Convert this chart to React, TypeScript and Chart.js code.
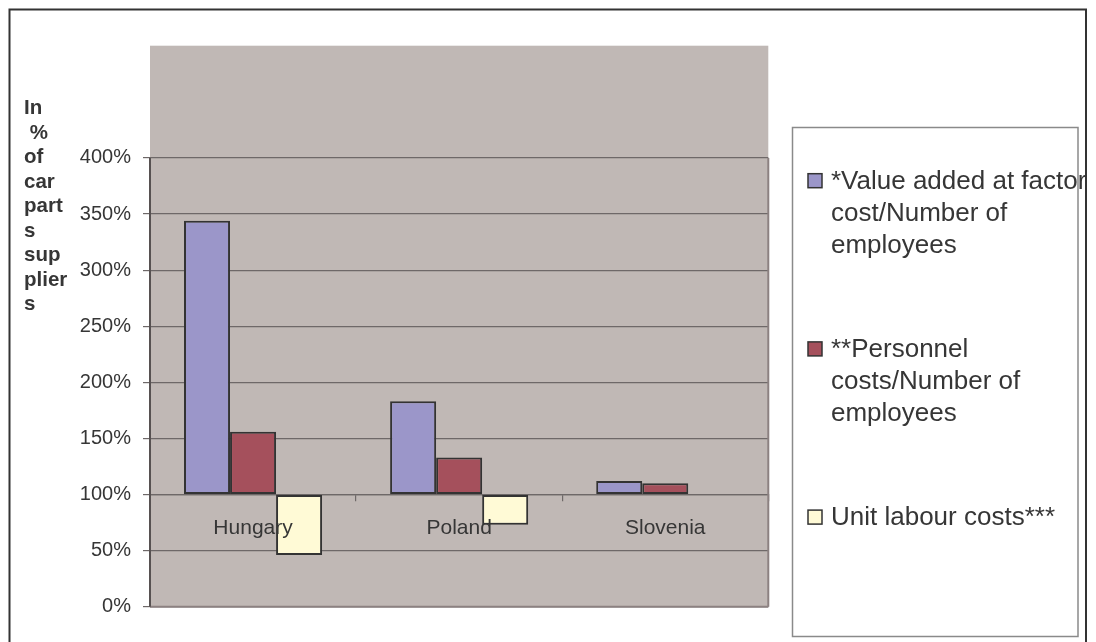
import React, { useEffect, useRef } from 'react';
import { Chart, registerables } from 'chart.js';

Chart.register(...registerables);

const CATEGORIES = ['Hungary', 'Poland', 'Slovenia'];
const SERIES_LABELS = [
  '*Value added at factor cost/Number of employees',
  '**Personnel costs/Number of employees',
  'Unit labour costs***',
];
const VALUE_ADDED = [344, 183, 112];
const PERSONNEL = [156, 133, 110];
const UNIT_LABOUR: (number | null)[] = [46, 73, null];
const SERIES_COLORS = ['#9b96c9', '#a5505c', '#fffad6'];
const BASELINE = 100;
const Y_MAX = 500;
const Y_TICK_MAX = 400;
const Y_STEP = 50;
const Y_TITLE_LINES = ['In', ' %', 'of', 'car', 'part', 's', 'sup', 'plier', 's'];

const FONT = '"Liberation Sans", Arial, Helvetica, sans-serif';
const TEXT = '#363636';
const GRID = '#6e6868';

function wrap(ctx: CanvasRenderingContext2D, text: string, maxW: number): string[] {
  const words = text.split(' ');
  const lines: string[] = [];
  let cur = '';
  for (const w of words) {
    const t = cur ? cur + ' ' + w : w;
    if (cur && ctx.measureText(t).width > maxW) {
      lines.push(cur);
      cur = w;
    } else cur = t;
  }
  if (cur) lines.push(cur);
  return lines;
}

const decor = {
  id: 'decor',
  beforeDraw(chart: any) {
    const { ctx, chartArea: a } = chart;
    ctx.save();
    ctx.fillStyle = '#ffffff';
    ctx.fillRect(0, 0, chart.width, chart.height);
    ctx.fillStyle = '#c0b8b5';
    ctx.fillRect(a.left, a.top, a.right - a.left, a.bottom - a.top);
    ctx.restore();
  },
  afterDraw(chart: any) {
    const { ctx, chartArea: a } = chart;
    const y = chart.scales.y;
    const yTop = y.getPixelForValue(Y_TICK_MAX);
    const yBot = y.getPixelForValue(0);
    ctx.save();
    // plot frame (0..400%)
    ctx.strokeStyle = '#8c8181';
    ctx.lineWidth = 2;
    ctx.beginPath();
    ctx.moveTo(a.left, yBot);
    ctx.lineTo(a.right, yBot);
    ctx.moveTo(a.right, yBot);
    ctx.lineTo(a.right, yTop);
    ctx.stroke();
    // value axis line
    ctx.strokeStyle = '#575151';
    ctx.lineWidth = 2;
    ctx.beginPath();
    ctx.moveTo(a.left, yTop);
    ctx.lineTo(a.left, yBot);
    ctx.stroke();

    // y title
    ctx.fillStyle = TEXT;
    ctx.font = 'bold 20.5px ' + FONT;
    ctx.textAlign = 'left';
    ctx.textBaseline = 'alphabetic';
    Y_TITLE_LINES.forEach((l, i) => {
      ctx.fillText(l, 24, 114 + i * 24.5);
    });

    // legend
    ctx.strokeStyle = '#8a8a8a';
    ctx.lineWidth = 1.5;
    ctx.strokeRect(792.5, 127.5, 285.5, 509);
    ctx.font = '26px ' + FONT;
    ctx.textBaseline = 'middle';
    chart.data.datasets.forEach((ds: any, i: number) => {
      const cy = 181.7 + i * 168.2;
      ctx.fillStyle = ds.backgroundColor;
      ctx.fillRect(808, cy - 8, 14, 14);
      ctx.strokeStyle = '#333333';
      ctx.lineWidth = 1.5;
      ctx.strokeRect(808, cy - 8, 14, 14);
      ctx.fillStyle = TEXT;
      const lines = wrap(ctx, ds.label, 262);
      lines.forEach((l, j) => ctx.fillText(l, 831, cy + j * 32));
    });

    // outer border
    ctx.strokeStyle = '#333333';
    ctx.lineWidth = 2;
    ctx.beginPath();
    ctx.moveTo(9.5, 642);
    ctx.lineTo(9.5, 9.5);
    ctx.lineTo(1086, 9.5);
    ctx.lineTo(1086, 642);
    ctx.stroke();
    ctx.restore();
  },
};

export default function App() {
  const ref = useRef<HTMLCanvasElement>(null);
  useEffect(() => {
    if (!ref.current) return;
    const series = [VALUE_ADDED, PERSONNEL, UNIT_LABOUR];
    const chart = new Chart(ref.current, {
      type: 'bar',
      data: {
        labels: CATEGORIES,
        datasets: series.map((d, i) => ({
          label: SERIES_LABELS[i],
          data: d,
          base: BASELINE,
          backgroundColor: SERIES_COLORS[i],
          borderColor: '#333333',
          borderWidth: 2,
          borderSkipped: false,
          categoryPercentage: 0.67,
          barPercentage: 1.0,
        })) as any,
      },
      options: {
        animation: false,
        responsive: true,
        maintainAspectRatio: false,
        layout: { padding: { left: 0, top: 45.7, right: 327.7, bottom: 35.3 } },
        plugins: { legend: { display: false }, tooltip: { enabled: false } },
        scales: {
          x: {
            type: 'category',
            position: { y: BASELINE } as any,
            offset: true,
            grid: {
              offset: true,
              drawOnChartArea: false,
              tickLength: 6,
              color: GRID,
              lineWidth: 1.2,
            },
            border: { display: true, color: GRID, width: 1.2 },
            ticks: {
              z: 1,
              font: { family: FONT, size: 21 },
              color: TEXT,
              padding: 15,
              maxRotation: 0,
            },
          },
          y: {
            min: 0,
            max: Y_MAX,
            afterFit: (s: any) => {
              s.width = 150;
            },
            ticks: {
              stepSize: Y_STEP,
              callback: (v: any) => (Number(v) > Y_TICK_MAX ? '' : v + '%'),
              font: { family: FONT, size: 20 },
              color: TEXT,
              padding: 12,
            },
            grid: {
              color: (c: any) => (c.tick && c.tick.value > Y_TICK_MAX ? 'rgba(0,0,0,0)' : GRID),
              tickLength: 7,
              lineWidth: 1.2,
            },
            border: { display: false },
          },
        },
      },
      plugins: [decor],
    });
    return () => chart.destroy();
  }, []);
  return (
    <div style={{ position: 'fixed', left: 0, top: 0, width: 1096, height: 642, background: '#fff' }}>
      <canvas ref={ref} />
    </div>
  );
}
